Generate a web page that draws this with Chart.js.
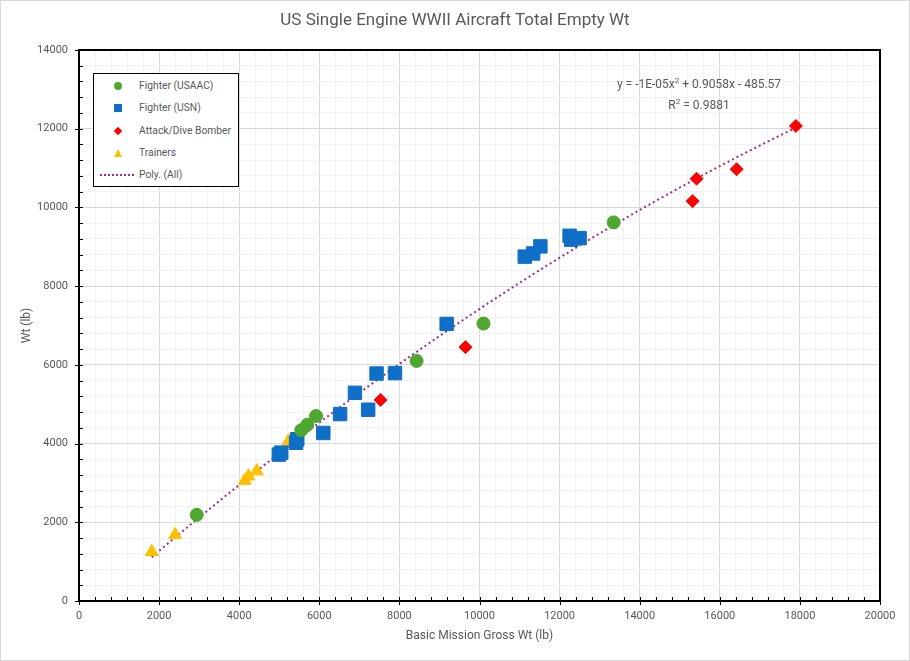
<!DOCTYPE html>
<html>
<head>
<meta charset="utf-8">
<script src="https://cdn.jsdelivr.net/npm/chart.js@4/dist/chart.umd.min.js"></script>
<style>
  body { margin: 0; background: #fff; font-family: Roboto, "Liberation Sans", sans-serif; }
  #wrap { position: relative; width: 910px; height: 661px; }
  #frame { position: absolute; left: 0; top: 0; width: 910px; height: 661px; box-sizing: border-box; border: 1px solid #d9d9d9; pointer-events: none; }
  #title { position: absolute; left: 0; top: 9px; width: 910px; text-align: center; font-size: 17px; color: #595959; }
  #legend { position: absolute; left: 93px; top: 73px; width: 144px; height: 112px; border: 1px solid #000; background: #fff; font-size: 10.3px; color: #595959; }
  .row { position: absolute; left: 0; height: 14px; line-height: 14px; }
  .row span.lbl { position: absolute; left: 45px; white-space: nowrap; }
  .mk { position: absolute; }
  #eq { position: absolute; left: 580px; width: 238px; top: 72px; text-align: center; font-size: 12px; color: #595959; line-height: 17px; }
</style>
</head>
<body>
<div id="wrap">
  <canvas id="chart" width="910" height="661"></canvas>
  <div id="title">US Single Engine WWII Aircraft Total Empty Wt</div>
  <div id="legend"></div>
  <div id="eq">y = -1E-05x<sup style="font-size:8px">2</sup> + 0.9058x - 485.57<br>R<sup style="font-size:8px">2</sup> = 0.9881</div>
  <div id="frame"></div>
</div>
<script>
// Fighter (USAAC)
const usaacX = [2940, 5550, 5700, 5920, 8430, 10100, 13350];
const usaacY = [2190, 4340, 4480, 4700, 6100, 7050, 9620];
// Fighter (USN)
const usnX = [4990, 5050, 5420, 5450, 6100, 6520, 6890, 7220, 7430, 7890, 9180, 11130, 11340, 11520, 12250, 12290, 12500];
const usnY = [3720, 3770, 4020, 4110, 4270, 4750, 5290, 4860, 5780, 5790, 7040, 8750, 8830, 9010, 9280, 9180, 9220];
// Attack/Dive Bomber
const attackX = [7530, 9650, 15320, 15420, 16420, 17900];
const attackY = [5110, 6450, 10160, 10730, 10970, 12070];
// Trainers
const trainX = [1815, 2400, 4140, 4230, 4440, 5230];
const trainY = [1250, 1680, 3060, 3170, 3300, 4060];

const seriesNames = ["Fighter (USAAC)", "Fighter (USN)", "Attack/Dive Bomber", "Trainers", "Poly. (All)"];
const xTitle = "Basic Mission Gross Wt (lb)";
const yTitle = "Wt (lb)";

const GREEN = "#4ea72e", BLUE = "#0f6fc6", RED = "#ff0000", YELLOW = "#ffc000", PURPLE = "#a02b93";

function toPoints(xs, ys) {
  return xs.map((x, i) => ({ x: x, y: ys[i] }));
}

// least squares y = a*x^2 + b*x + c (x in thousands to keep numbers sane)
function polyFit(xs, ys) {
  let s = [0, 0, 0, 0, 0], t = [0, 0, 0];
  xs.forEach((x0, i) => {
    const x = x0 / 1000;
    for (let k = 0; k < 5; k++) s[k] += Math.pow(x, k);
    for (let k = 0; k < 3; k++) t[k] += ys[i] * Math.pow(x, k);
  });
  const m = [[s[4], s[3], s[2]], [s[3], s[2], s[1]], [s[2], s[1], s[0]]];
  const r = [t[2], t[1], t[0]];
  const det = a => a[0][0] * (a[1][1] * a[2][2] - a[1][2] * a[2][1]) - a[0][1] * (a[1][0] * a[2][2] - a[1][2] * a[2][0]) + a[0][2] * (a[1][0] * a[2][1] - a[1][1] * a[2][0]);
  const d = det(m);
  const coef = [0, 1, 2].map(c => det(m.map((row, i) => row.map((v, j) => (j === c ? r[i] : v)))) / d);
  return x => { const k = x / 1000; return coef[0] * k * k + coef[1] * k + coef[2]; };
}

const allX = usaacX.concat(usnX, attackX, trainX);
const allY = usaacY.concat(usnY, attackY, trainY);
const fit = polyFit(allX, allY);
const minX = Math.min(...allX), maxX = Math.max(...allX);
const trend = [];
for (let i = 0; i <= 60; i++) {
  const x = minX + (maxX - minX) * i / 60;
  trend.push({ x: x, y: fit(x) });
}

// plot frame + Excel style tick marks
const framePlugin = {
  id: "framePlugin",
  beforeDatasetsDraw(chart) {
    const { ctx, chartArea: a, scales } = chart;
    ctx.save();
    ctx.strokeStyle = "#000";
    ctx.lineWidth = 1;
    for (let v = 0; v <= 20000; v += 400) {
      const px = Math.round(scales.x.getPixelForValue(v)) + 0.5;
      const major = v % 2000 === 0;
      ctx.beginPath();
      ctx.moveTo(px, a.bottom + (major ? 4 : 0));
      ctx.lineTo(px, a.bottom - 4);
      ctx.stroke();
    }
    for (let v = 0; v <= 14000; v += 400) {
      const py = Math.round(scales.y.getPixelForValue(v)) + 0.5;
      const major = v % 2000 === 0;
      ctx.beginPath();
      ctx.moveTo(a.left - (major ? 4 : 0), py);
      ctx.lineTo(a.left + 4, py);
      ctx.stroke();
    }
    ctx.lineWidth = 2;
    ctx.strokeRect(a.left, a.top, a.right - a.left, a.bottom - a.top);
    ctx.restore();
  }
};

const gridColor = c => (c.tick && c.tick.value % 2000 === 0 ? "#d9d9d9" : "#f2f2f2");

const chart = new Chart(document.getElementById("chart").getContext("2d"), {
  type: "scatter",
  data: {
    datasets: [
      { label: seriesNames[4], data: trend, showLine: true, pointRadius: 0, borderColor: PURPLE, borderWidth: 2, borderDash: [2, 3], fill: false, order: 5 },
      { label: seriesNames[0], data: toPoints(usaacX, usaacY), pointStyle: "circle", pointRadius: 6.5, backgroundColor: GREEN, borderColor: GREEN, borderWidth: 1, order: 1 },
      { label: seriesNames[1], data: toPoints(usnX, usnY), pointStyle: "rect", pointRadius: 9.5, backgroundColor: BLUE, borderColor: BLUE, borderWidth: 1, order: 2 },
      { label: seriesNames[2], data: toPoints(attackX, attackY), pointStyle: "rectRot", pointRadius: 6.5, backgroundColor: RED, borderColor: RED, borderWidth: 1, order: 3 },
      { label: seriesNames[3], data: toPoints(trainX, trainY), pointStyle: "triangle", pointRadius: 7.5, backgroundColor: YELLOW, borderColor: YELLOW, borderWidth: 1, order: 4 }
    ]
  },
  options: {
    responsive: false,
    animation: false,
    layout: { padding: { top: 50, right: 30, bottom: 0, left: 0 } },
    plugins: { legend: { display: false }, tooltip: { enabled: false } },
    scales: {
      x: {
        type: "linear", min: 0, max: 20000,
        afterFit: s => { s.height = 60; },
        border: { display: false },
        grid: { color: gridColor, drawTicks: false },
        ticks: {
          stepSize: 400, autoSkip: false, maxRotation: 0, padding: 9,
          color: "#595959", font: { family: "Roboto", size: 11 },
          callback: v => (v % 2000 === 0 ? String(v) : "")
        },
        title: { display: true, text: xTitle, color: "#595959", font: { family: "Roboto", size: 12 }, padding: { top: 0, bottom: 18 } }
      },
      y: {
        type: "linear", min: 0, max: 14000,
        afterFit: s => { s.width = 79; },
        border: { display: false },
        grid: { color: gridColor, drawTicks: false },
        ticks: {
          stepSize: 400, autoSkip: false, padding: 11,
          color: "#595959", font: { family: "Roboto", size: 11 },
          callback: v => (v % 2000 === 0 ? String(v) : "")
        },
        title: { display: true, text: yTitle, color: "#595959", font: { family: "Roboto", size: 12 }, padding: { top: 20, bottom: 0 } }
      }
    }
  },
  plugins: [framePlugin]
});

// legend box inside the plot
const legendDiv = document.getElementById("legend");
const rowTops = [5, 27, 50, 72, 94];
const markers = [
  `<span class="mk" style="left:20px;top:3px;width:8px;height:8px;border-radius:50%;background:${GREEN}"></span>`,
  `<span class="mk" style="left:20px;top:3px;width:8px;height:8px;background:${BLUE}"></span>`,
  `<span class="mk" style="left:21px;top:4px;width:6px;height:6px;transform:rotate(45deg);background:${RED}"></span>`,
  `<span class="mk" style="left:20px;top:3px;width:0;height:0;border-left:4.5px solid transparent;border-right:4.5px solid transparent;border-bottom:8px solid ${YELLOW}"></span>`,
  `<span class="mk" style="left:6px;top:6px;width:34px;height:0;border-top:2px dotted ${PURPLE}"></span>`
];
let html = "";
seriesNames.forEach((name, i) => {
  html += `<div class="row" style="top:${rowTops[i]}px;width:144px">${markers[i]}<span class="lbl">${name}</span></div>`;
});
legendDiv.innerHTML = html;
</script>
</body>
</html>
